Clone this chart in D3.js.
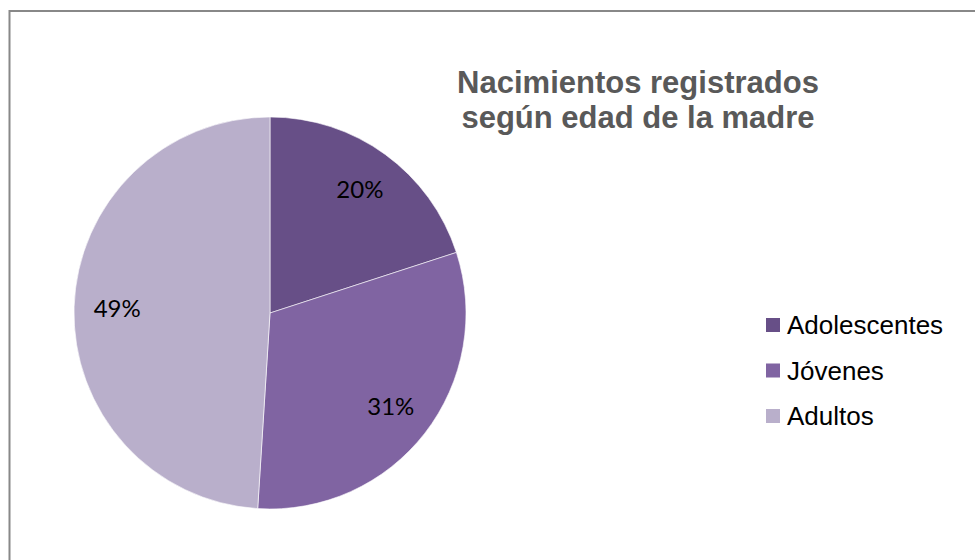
<!DOCTYPE html>
<html>
<head>
<meta charset="utf-8">
<script src="https://cdn.jsdelivr.net/npm/d3@7"></script>
<style>
  body { margin: 0; background: #fff; }
  svg { display: block; }
</style>
</head>
<body>
<svg></svg>
<script>
// Chart data
const categories = ["Adolescentes", "Jóvenes", "Adultos"];
const values = [20, 31, 49];
const colors = ["#674f87", "#8064a2", "#b9afcb"];
const titleLines = ["Nacimientos registrados", "según edad de la madre"];

const width = 975, height = 560;
const cx = 270, cy = 313, radius = 196;

const svg = d3.select("svg")
  .attr("width", width)
  .attr("height", height);

// chart frame (right and bottom edges run off the picture)
svg.append("rect")
  .attr("x", 9.5)
  .attr("y", 11)
  .attr("width", 1000)
  .attr("height", 600)
  .attr("fill", "none")
  .attr("stroke", "#888")
  .attr("stroke-width", 2);

const data = categories.map((c, i) => ({ name: c, value: values[i], color: colors[i] }));

const pie = d3.pie().value(d => d.value).sort(null);
const arc = d3.arc().innerRadius(0).outerRadius(radius);
const labelArc = d3.arc().innerRadius(radius * 0.78).outerRadius(radius * 0.78);
const total = d3.sum(values);

const g = svg.append("g").attr("transform", `translate(${cx},${cy})`);

const arcs = pie(data);

g.selectAll("path")
  .data(arcs)
  .join("path")
  .attr("d", arc)
  .attr("fill", d => d.data.color)
  .attr("stroke", "#fff")
  .attr("stroke-width", 0.6);

g.selectAll("text")
  .data(arcs)
  .join("text")
  .attr("transform", d => `translate(${labelArc.centroid(d)})`)
  .attr("text-anchor", "middle")
  .attr("dy", "0.35em")
  .style("font-family", "Lato, 'Open Sans', sans-serif")
  .style("font-size", "24px")
  .attr("fill", "#000")
  .text(d => d3.format(".0%")(d.data.value / total));

// title
svg.append("text")
  .attr("x", 638)
  .attr("y", 93)
  .attr("text-anchor", "middle")
  .style("font-family", "'Liberation Sans', Arial, sans-serif")
  .style("font-weight", "bold")
  .style("font-size", "31px")
  .attr("fill", "#595959")
  .selectAll("tspan")
  .data(titleLines)
  .join("tspan")
  .attr("x", 638)
  .attr("dy", (d, i) => i === 0 ? 0 : 35)
  .text(d => d);

// legend
const legendY = d3.scalePoint().domain(categories).range([325, 416]);

const legend = svg.append("g");
const item = legend.selectAll("g")
  .data(data)
  .join("g")
  .attr("transform", d => `translate(766,${legendY(d.name)})`);

item.append("rect")
  .attr("x", 0)
  .attr("y", -7)
  .attr("width", 14)
  .attr("height", 14)
  .attr("fill", d => d.color);

item.append("text")
  .attr("x", 21)
  .attr("dy", "0.36em")
  .style("font-family", "'Liberation Sans', Arial, sans-serif")
  .style("font-size", "26px")
  .attr("fill", "#000")
  .text(d => d.name);
</script>
</body>
</html>
